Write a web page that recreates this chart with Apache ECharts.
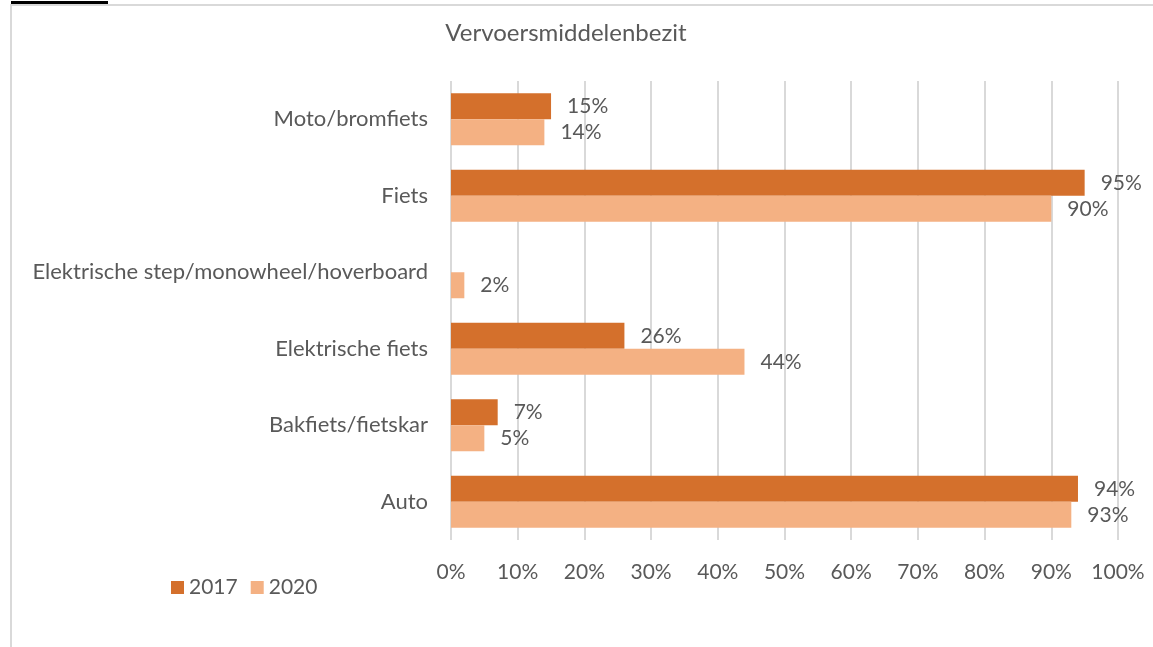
<!DOCTYPE html>
<html>
<head>
<meta charset="utf-8">
<script src="https://cdn.jsdelivr.net/npm/echarts@6/dist/echarts.min.js"></script>
<style>html,body{margin:0;padding:0;background:#fff}#c{width:1153px;height:647px}</style>
</head>
<body>
<div id="c"></div>
<script>
const categories = ['Auto', 'Bakfiets/fietskar', 'Elektrische fiets', 'Elektrische step/monowheel/hoverboard', 'Fiets', 'Moto/bromfiets'];
const values2017 = [94, 7, 26, null, 95, 15];
const values2020 = [93, 5, 44, 2, 90, 14];
const xTicks = [0, 10, 20, 30, 40, 50, 60, 70, 80, 90, 100];

const FONT = 'Lato, "Open Sans", sans-serif';
const FS = 21;
const TXT = '#595959';
const chart = echarts.init(document.getElementById('c'));
const lbl = {
  show: true, position: 'right', distance: 16, color: TXT, fontSize: FS, fontFamily: FONT,
  formatter: p => p.value == null ? '' : p.value + '%'
};
chart.setOption({
  animation: false,
  title: {
    text: 'Vervoersmiddelenbezit', left: 561, top: 16, textAlign: 'center',
    textStyle: { color: TXT, fontSize: 24, fontWeight: 'normal', fontFamily: FONT }
  },
  legend: {
    data: ['2017', '2020'], left: 166, top: 572, itemWidth: 13, itemHeight: 13, itemGap: 13,
    icon: 'rect',
    textStyle: { color: TXT, fontSize: FS, fontFamily: FONT }
  },
  grid: { left: 451, right: 35, top: 81, bottom: 107, containLabel: false },
  xAxis: {
    type: 'value', min: xTicks[0], max: xTicks[xTicks.length - 1], interval: 10,
    axisLabel: { formatter: '{value}%', color: TXT, fontSize: FS, fontFamily: FONT, margin: 22 },
    axisLine: { show: false }, axisTick: { show: false },
    splitLine: { lineStyle: { color: '#d9d9d9', width: 2 } }
  },
  yAxis: {
    type: 'category', data: categories,
    axisLabel: { color: TXT, fontSize: 22, fontFamily: FONT, margin: 23 },
    axisLine: { show: false }, axisTick: { show: false }
  },
  series: [
    { name: '2017', type: 'bar', data: values2017, barGap: '0%', barCategoryGap: '32%',
      itemStyle: { color: '#D4702C' }, label: lbl },
    { name: '2020', type: 'bar', data: values2020, barGap: '0%', barCategoryGap: '32%',
      itemStyle: { color: '#F4B183' }, label: lbl }
  ],
  graphic: [
    { type: 'rect', shape: { x: 11, y: 5, width: 1160, height: 700 }, style: { fill: 'none', stroke: '#d9d9d9', lineWidth: 2 }, silent: true },
    { type: 'line', shape: { x1: 11, y1: 2.5, x2: 108, y2: 2.5 }, style: { stroke: '#000', lineWidth: 3 }, silent: true }
  ]
});
</script>
</body>
</html>
